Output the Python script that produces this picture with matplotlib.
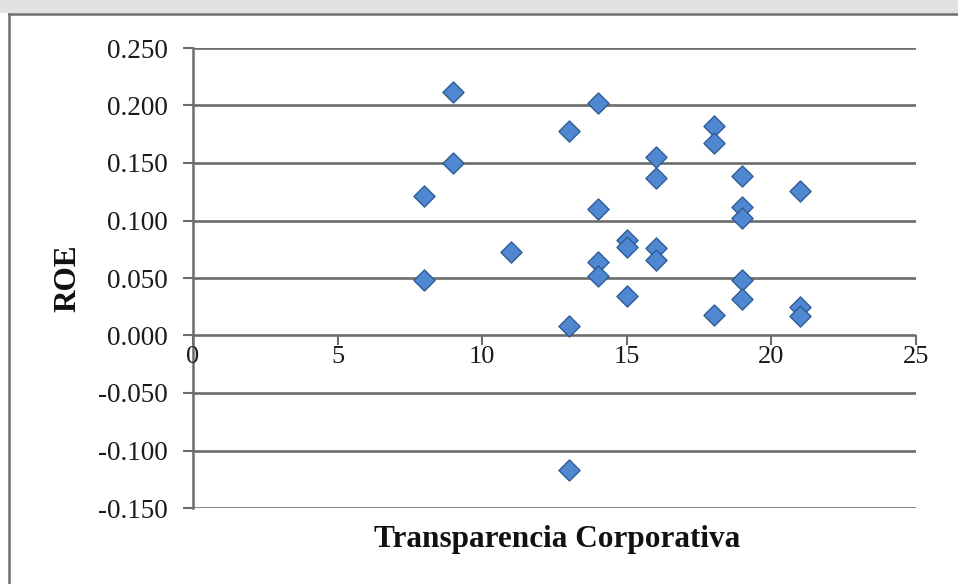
import numpy as np
import matplotlib.pyplot as plt
from matplotlib.patches import Rectangle
from matplotlib.lines import Line2D

# Transparencia Corporativa vs ROE
transparencia = [8, 8, 9, 9, 11, 13, 13, 13, 14, 14, 14, 14,
                 15, 15, 15, 16, 16, 16, 16, 18, 18, 18,
                 19, 19, 19, 19, 19, 21, 21, 21]
roe = [0.121, 0.048, 0.212, 0.150, 0.073, 0.178, 0.008, -0.117, 0.202, 0.110, 0.064, 0.052,
       0.083, 0.077, 0.034, 0.155, 0.137, 0.076, 0.066, 0.182, 0.167, 0.018,
       0.139, 0.112, 0.102, 0.048, 0.032, 0.126, 0.025, 0.017]

yticks = np.arange(-0.15, 0.2501, 0.05)
xticks = [0, 5, 10, 15, 20, 25]

fig = plt.figure(figsize=(9.58, 5.84), dpi=100)
fig.patch.set_facecolor('white')

# gray page strip at the top and the chart frame
fig.patches.append(Rectangle((0, 1 - 13 / 584), 1, 13 / 584, transform=fig.transFigure,
                             facecolor='#e2e2e2', edgecolor='none', zorder=0))
fig.lines.append(Line2D([9 / 958, 9 / 958], [0, 1 - 14 / 584], transform=fig.transFigure,
                        color='#6e6e6e', lw=1.8))
fig.lines.append(Line2D([9 / 958, 1], [1 - 14 / 584, 1 - 14 / 584], transform=fig.transFigure,
                        color='#6e6e6e', lw=1.8))

ax = fig.add_axes([193 / 958, 1 - 508 / 584, (916 - 193) / 958, (508 - 48) / 584])
ax.set_xlim(0, 25)
ax.set_ylim(-0.15, 0.25)
ax.set_facecolor('none')

for yv in yticks:
    ax.axhline(yv, color='#6c6c6c', lw=1.9, zorder=1)

ax.scatter(transparencia, roe, marker='D', s=115, color='#4f87d0',
           edgecolors='#2d5c98', linewidths=1.0, zorder=3)

for side in ['top', 'right', 'bottom']:
    ax.spines[side].set_visible(False)
ax.spines['left'].set_color('#6c6c6c')
ax.spines['left'].set_linewidth(1.8)

ax.set_yticks(yticks)
ax.set_yticklabels(['%.3f' % v for v in yticks], family='Liberation Serif', fontsize=19.5,
                   color='#1a1a1a')
ax.tick_params(axis='y', direction='out', length=7, width=1.5, color='#6c6c6c', pad=11)
ax.set_xticks([])

# x ticks and labels sit on the zero line
for xv in xticks:
    ax.plot([xv, xv], [0, -0.007], color='#6c6c6c', lw=1.5, zorder=2, clip_on=False)
    ax.text(xv, -0.0185, str(xv), ha='center', va='center',
            family='Liberation Serif', fontsize=19, color='#1a1a1a')

fig.text(557 / 958, 1 - 540 / 584, 'Transparencia Corporativa', ha='center', va='center',
         family='Liberation Serif', fontweight='bold', fontsize=22.5, color='#111111')
fig.text(68 / 958, 1 - 278 / 584, 'ROE', ha='center', va='center', rotation=90,
         family='Liberation Serif', fontweight='bold', fontsize=22.5, color='#111111')

fig.savefig('out.png', dpi=100)
